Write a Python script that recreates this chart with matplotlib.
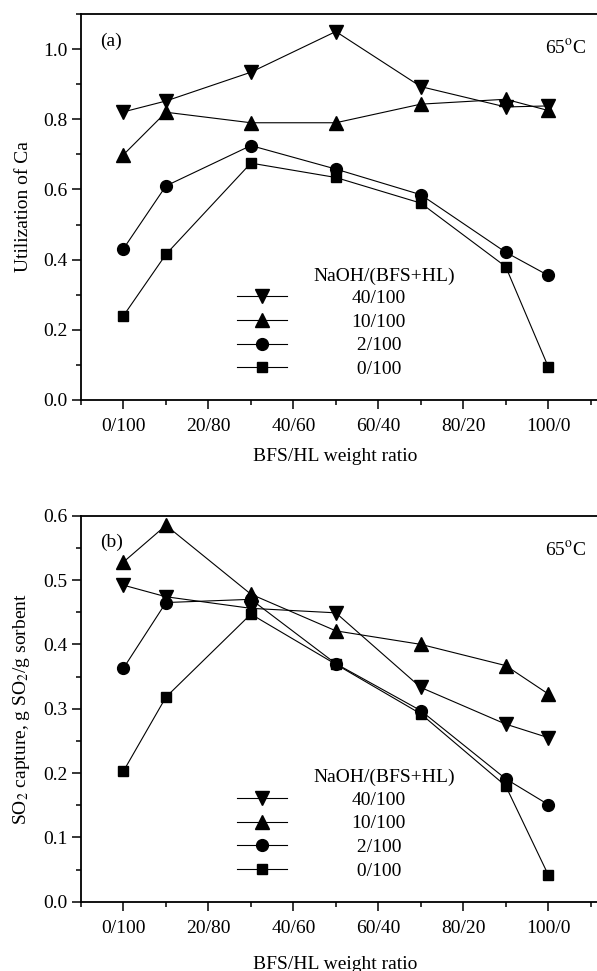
import matplotlib
matplotlib.use("Agg")
import matplotlib.pyplot as plt
from matplotlib.ticker import MultipleLocator, FixedLocator

plt.rcParams["font.family"] = ["Liberation Serif", "DejaVu Serif"]
plt.rcParams["mathtext.fontset"] = "stix"
plt.rcParams["font.size"] = 14

# BFS content (%) for each sample, tick positions and labels
bfs = [0, 10, 30, 50, 70, 90, 100]
tick_pos = [0, 20, 40, 60, 80, 100]
tick_labels = ["0/100", "20/80", "40/60", "60/40", "80/20", "100/0"]

series_names = ["40/100", "10/100", "2/100", "0/100"]
legend_labels = ["40/100", "10/100", " 2/100", " 0/100"]
markers = ["v", "^", "o", "s"]
marker_sizes = [10, 10, 8.5, 7]

# (a) utilization of Ca
ca_40 = [0.821, 0.852, 0.934, 1.050, 0.893, 0.835, 0.838]
ca_10 = [0.699, 0.820, 0.790, 0.790, 0.843, 0.857, 0.825]
ca_2 = [0.431, 0.610, 0.725, 0.658, 0.585, 0.421, 0.355]
ca_0 = [0.240, 0.415, 0.675, 0.634, 0.561, 0.380, 0.095]

# (b) SO2 capture
so2_40 = [0.492, 0.474, 0.456, 0.449, 0.333, 0.276, 0.255]
so2_10 = [0.528, 0.585, 0.478, 0.421, 0.400, 0.367, 0.323]
so2_2 = [0.363, 0.465, 0.470, 0.370, 0.297, 0.191, 0.151]
so2_0 = [0.203, 0.318, 0.447, 0.369, 0.292, 0.180, 0.042]

fig = plt.figure(figsize=(5.97, 9.71), dpi=100)
ax_a = fig.add_axes([0.1357, 0.5881, 0.8643, 0.3975])
ax_b = fig.add_axes([0.1357, 0.0714, 0.8643, 0.3975])

panels = [
    (ax_a, [ca_40, ca_10, ca_2, ca_0], (0, 1.1), 0.2, "Utilization of Ca", "(a)", 0.930, 0.912, -0.125),
    (ax_b, [so2_40, so2_10, so2_2, so2_0], (0, 0.6), 0.1,
     "SO$_2$ capture, g SO$_2$/g sorbent", "(b)", 0.932, 0.911, -0.140),
]

for ax, data, ylim, ystep, ylabel, tag, tag_y, temp_y, xlab_y in panels:
    lines = []
    for vals, mk, ms in zip(data, markers, marker_sizes):
        (ln,) = ax.plot(bfs, vals, color="black", linewidth=0.8, marker=mk,
                        markersize=ms, markerfacecolor="black", markeredgecolor="black")
        lines.append(ln)

    ax.set_xlim(-10, 111.5)
    ax.set_ylim(*ylim)
    ax.xaxis.set_major_locator(FixedLocator(tick_pos))
    ax.set_xticklabels(tick_labels)
    ax.xaxis.set_minor_locator(MultipleLocator(10))
    ax.yaxis.set_major_locator(MultipleLocator(ystep))
    ax.yaxis.set_minor_locator(MultipleLocator(ystep / 2))
    ax.yaxis.set_major_formatter(plt.FormatStrFormatter("%.1f"))

    ax.tick_params(which="major", direction="out", length=6.5, width=1.1, pad=3)
    ax.tick_params(which="minor", direction="out", length=3.5, width=1.1)
    ax.tick_params(axis="x", which="major", pad=6.5)
    ax.spines["right"].set_visible(False)
    for side in ["left", "bottom", "top"]:
        ax.spines[side].set_linewidth(1.3)

    ax.set_ylabel(ylabel)
    ax.yaxis.set_label_coords(-0.095, 0.5)
    ax.set_xlabel("BFS/HL weight ratio")
    ax.xaxis.set_label_coords(0.492, xlab_y)

    ax.text(0.037, tag_y, tag, transform=ax.transAxes, ha="left", va="center")
    ax.text(0.979, temp_y, "65$^{\\mathrm{o}}$C", transform=ax.transAxes,
            ha="right", va="center")

    ax.text(0.587, 0.321, "NaOH/(BFS+HL)", transform=ax.transAxes,
            ha="center", va="center")
    ax.legend(lines, legend_labels, loc="upper left", bbox_to_anchor=(0.302, 0.287),
              frameon=False, handlelength=2.6, handletextpad=3.3,
              labelspacing=0.32, borderpad=0, borderaxespad=0, fontsize=14)

fig.savefig("out.png", dpi=100)
